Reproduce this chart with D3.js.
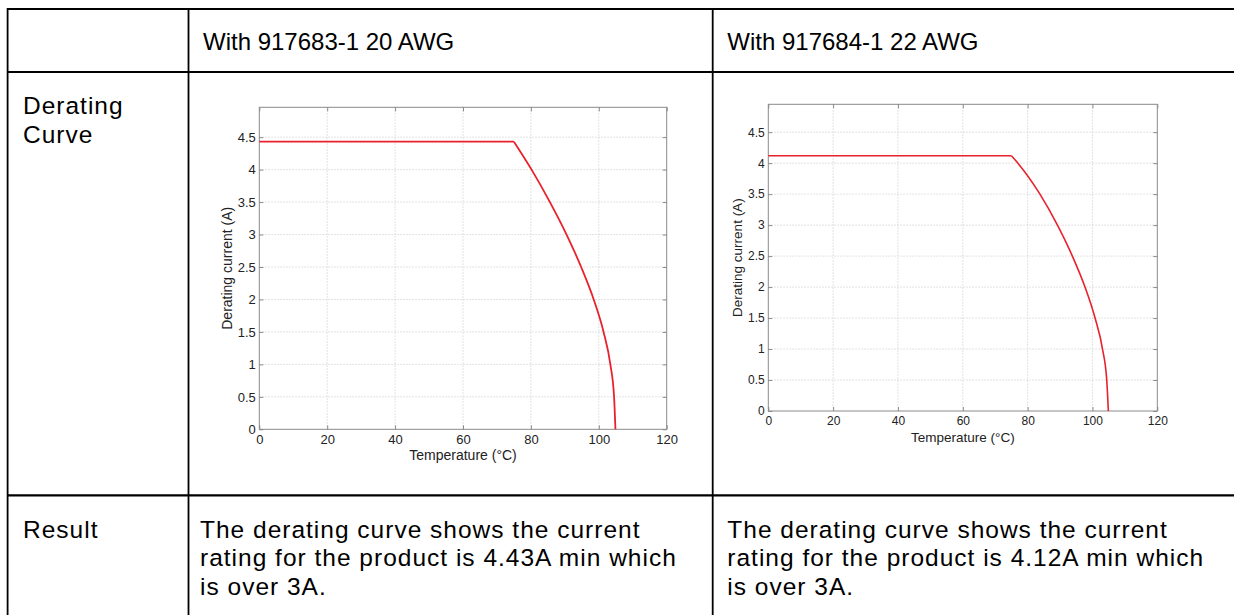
<!DOCTYPE html>
<html><head><meta charset="utf-8">
<script src="https://cdn.jsdelivr.net/npm/d3@7"></script>
<style>body{margin:0;background:#fff}svg{display:block}</style>
</head><body><svg id="c" width="1234" height="615"></svg>
<script>
// ---------- data ----------
const headers = ["With 917683-1 20 AWG", "With 917684-1 22 AWG"];
const rowLabelDerating = ["Derating", "Curve"];
const rowLabelResult = ["Result"];
const resultText20 = ["The derating curve shows the current", "rating for the product is 4.43A min which", "is over 3A."];
const resultText22 = ["The derating curve shows the current", "rating for the product is 4.12A min which", "is over 3A."];
const xTicks = [0, 20, 40, 60, 80, 100, 120];
const yTicks = [0, 0.5, 1, 1.5, 2, 2.5, 3, 3.5, 4, 4.5];
const xLabel = "Temperature (°C)";
const yLabel = "Derating current (A)";
// 20 AWG curve
const temp20 = [0, 75, 80.2, 85.6, 90.5, 94.8, 98.5, 101.4, 103.4, 104.5, 104.9];
const curr20 = [4.43, 4.43, 4.0, 3.5, 3.0, 2.5, 2.0, 1.5, 1.0, 0.5, 0];
// 22 AWG curve
const temp22 = [0, 75, 77.0, 83.8, 89.2, 93.8, 97.7, 100.8, 103.1, 104.4, 104.9];
const curr22 = [4.12, 4.12, 4.0, 3.5, 3.0, 2.5, 2.0, 1.5, 1.0, 0.5, 0];

const svg = d3.select("#c");
const FONT = "'Liberation Sans', Arial, Helvetica, sans-serif";

// ---------- table ----------
const tbl = svg.append("g");
const hl = [[7, 1234, 9], [7, 1234, 72], [7, 1234, 495.3]];
hl.forEach(([x1, x2, y]) => tbl.append("line").attr("x1", x1).attr("x2", x2).attr("y1", y).attr("y2", y)
  .attr("stroke", "#000").attr("stroke-width", 2.2));
const vl = [[7.6, 8, 620], [188.5, 8, 620], [712.7, 8, 620]];
vl.forEach(([x, y1, y2]) => tbl.append("line").attr("x1", x).attr("x2", x).attr("y1", y1).attr("y2", y2)
  .attr("stroke", "#000").attr("stroke-width", 1.8));

function txt(x, y, s, size, ls) {
  tbl.append("text").attr("x", x).attr("y", y).text(s)
    .attr("font-family", FONT).attr("font-size", size).attr("letter-spacing", ls).attr("fill", "#000");
}
txt(203, 50, headers[0], 24, 0);
txt(727.3, 50, headers[1], 24, 0);
rowLabelDerating.forEach((s, i) => txt(23, 114.3 + i * 28.7, s, 24.5, 1.0));
rowLabelResult.forEach((s, i) => txt(23, 537.7 + i * 28.7, s, 24.5, 1.0));
resultText20.forEach((s, i) => txt(200, 537.7 + i * 28.7, s, 24.5, 1.0));
resultText22.forEach((s, i) => txt(727.3, 537.7 + i * 28.7, s, 24.5, 1.0));

// ---------- charts ----------
function chart(cfg, temps, currs) {
  const g = svg.append("g");
  const x = d3.scaleLinear().domain([0, 120]).range([cfg.left, cfg.right]);
  const y = d3.scaleLinear().domain([0, cfg.ymax]).range([cfg.bottom, cfg.top]);
  // grid
  const grid = g.append("g").attr("stroke", "#cfcfcf").attr("stroke-width", 0.8).attr("stroke-dasharray", "1.5,1.5");
  grid.selectAll(".gx").data(xTicks.slice(1, -1)).join("line")
    .attr("x1", d => x(d)).attr("x2", d => x(d)).attr("y1", cfg.top).attr("y2", cfg.bottom);
  grid.selectAll(".gy").data(yTicks.slice(1)).join("line")
    .attr("y1", d => y(d)).attr("y2", d => y(d)).attr("x1", cfg.left).attr("x2", cfg.right);
  // axes
  const ax = [
    g.append("g").attr("transform", `translate(0,${cfg.bottom})`)
      .call(d3.axisBottom(x).tickValues(xTicks).tickSize(-4).tickSizeOuter(0).tickPadding(cfg.xpad)),
    g.append("g").attr("transform", `translate(${cfg.left},0)`)
      .call(d3.axisLeft(y).tickValues(yTicks).tickSize(-4).tickSizeOuter(0).tickPadding(3.5).tickFormat(d3.format("~g"))),
    g.append("g").attr("transform", `translate(0,${cfg.top})`)
      .call(d3.axisTop(x).tickValues(xTicks).tickSize(-4).tickSizeOuter(0).tickFormat("")),
    g.append("g").attr("transform", `translate(${cfg.right},0)`)
      .call(d3.axisRight(y).tickValues(yTicks).tickSize(-4).tickSizeOuter(0).tickFormat(""))
  ];
  ax.forEach(a => {
    a.select(".domain").remove();
    a.selectAll("line").attr("stroke", "#8a8a8a");
    a.selectAll("text").attr("font-family", FONT).attr("font-size", cfg.tickFont).attr("fill", "#222");
  });
  g.append("rect").attr("x", cfg.left).attr("y", cfg.top)
    .attr("width", cfg.right - cfg.left).attr("height", cfg.bottom - cfg.top)
    .attr("fill", "none").attr("stroke", "#8a8a8a").attr("stroke-width", 1);
  // labels
  g.append("text").attr("x", (cfg.left + cfg.right) / 2).attr("y", cfg.bottom + 30.7)
    .attr("text-anchor", "middle").attr("font-family", FONT).attr("font-size", cfg.labFont)
    .attr("fill", "#222").text(xLabel);
  const ycx = cfg.ylabX, ycy = (cfg.top + cfg.bottom) / 2;
  g.append("text").attr("transform", `translate(${ycx},${ycy}) rotate(-90)`)
    .attr("text-anchor", "middle").attr("font-family", FONT).attr("font-size", cfg.labFont)
    .attr("fill", "#222").text(yLabel);
  // curve
  const pts = temps.map((t, i) => [t, currs[i]]);
  const lineLin = d3.line().x(d => x(d[0])).y(d => y(d[1]));
  const lineCurve = d3.line().x(d => x(d[0])).y(d => y(d[1])).curve(d3.curveMonotoneX);
  g.append("path").attr("d", lineLin(pts.slice(0, 2)))
    .attr("fill", "none").attr("stroke", "#e8222c").attr("stroke-width", cfg.lw);
  g.append("path").attr("d", lineCurve(pts.slice(1)))
    .attr("fill", "none").attr("stroke", "#e8222c").attr("stroke-width", cfg.lw);
}

chart({left: 259.3, right: 666.7, top: 107.3, bottom: 429.3, ymax: 4.96, xpad: 5.5,
       tickFont: 13, labFont: 14, ylabX: 231.7, lw: 1.8}, temp20, curr20);
chart({left: 768.3, right: 1157.3, top: 104.3, bottom: 411, ymax: 4.95, xpad: 5.5,
       tickFont: 12, labFont: 13.5, ylabX: 741.5, lw: 1.6}, temp22, curr22);
</script></body></html>
